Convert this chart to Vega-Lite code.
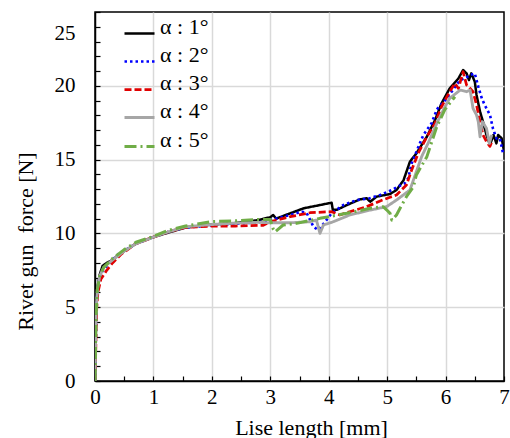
{
  "$schema": "https://vega.github.io/schema/vega-lite/v6.json",
  "width": 409,
  "height": 369,
  "autosize": "none",
  "padding": {"left": 95, "top": 12, "right": 6, "bottom": 57},
  "config": {
    "view": {"stroke": "#000000", "strokeWidth": 1.5},
    "font": "Liberation Serif"
  },
  "data": {"values": [
    {"s":"1","x":0,"y":0},{"s":"1","x":0.01,"y":3},{"s":"1","x":0.02,"y":5},{"s":"1","x":0.04,"y":6.3},{"s":"1","x":0.08,"y":7.2},{"s":"1","x":0.13,"y":7.8},{"s":"1","x":0.2,"y":8.0},{"s":"1","x":0.3,"y":8.2},{"s":"1","x":0.4,"y":8.55},{"s":"1","x":0.7,"y":9.3},{"s":"1","x":1.0,"y":9.75},{"s":"1","x":1.25,"y":10.05},{"s":"1","x":1.55,"y":10.4},{"s":"1","x":2.0,"y":10.6},{"s":"1","x":2.4,"y":10.7},{"s":"1","x":2.8,"y":10.9},{"s":"1","x":3.0,"y":11.1},{"s":"1","x":3.05,"y":11.25},{"s":"1","x":3.1,"y":11.0},{"s":"1","x":3.34,"y":11.36},{"s":"1","x":3.57,"y":11.7},{"s":"1","x":3.85,"y":11.92},{"s":"1","x":4.05,"y":12.08},{"s":"1","x":4.07,"y":11.6},{"s":"1","x":4.14,"y":11.6},{"s":"1","x":4.31,"y":11.92},{"s":"1","x":4.53,"y":12.3},{"s":"1","x":4.65,"y":12.38},{"s":"1","x":4.71,"y":12.15},{"s":"1","x":4.82,"y":12.49},{"s":"1","x":5.05,"y":12.67},{"s":"1","x":5.16,"y":12.94},{"s":"1","x":5.28,"y":13.6},{"s":"1","x":5.39,"y":14.86},{"s":"1","x":5.5,"y":15.42},{"s":"1","x":5.68,"y":16.55},{"s":"1","x":5.82,"y":17.68},{"s":"1","x":5.93,"y":18.8},{"s":"1","x":6.07,"y":19.82},{"s":"1","x":6.22,"y":20.5},{"s":"1","x":6.3,"y":21.07},{"s":"1","x":6.36,"y":20.84},{"s":"1","x":6.4,"y":20.39},{"s":"1","x":6.44,"y":20.84},{"s":"1","x":6.5,"y":20.28},{"s":"1","x":6.53,"y":19.38},{"s":"1","x":6.59,"y":18.25},{"s":"1","x":6.64,"y":17.57},{"s":"1","x":6.7,"y":16.67},{"s":"1","x":6.76,"y":16.0},{"s":"1","x":6.82,"y":16.67},{"s":"1","x":6.87,"y":16.1},{"s":"1","x":6.9,"y":16.67},{"s":"1","x":6.96,"y":16.44},{"s":"1","x":7.0,"y":15.6},
    {"s":"2","x":0,"y":0},{"s":"2","x":0.01,"y":2},{"s":"2","x":0.02,"y":4.2},{"s":"2","x":0.03,"y":5.6},{"s":"2","x":0.05,"y":6.5},{"s":"2","x":0.1,"y":7.3},{"s":"2","x":0.2,"y":7.8},{"s":"2","x":0.4,"y":8.6},{"s":"2","x":0.7,"y":9.3},{"s":"2","x":1.0,"y":9.75},{"s":"2","x":1.25,"y":10.1},{"s":"2","x":1.55,"y":10.4},{"s":"2","x":2.0,"y":10.55},{"s":"2","x":2.4,"y":10.65},{"s":"2","x":2.8,"y":10.75},{"s":"2","x":3.0,"y":10.9},{"s":"2","x":3.22,"y":11.13},{"s":"2","x":3.4,"y":11.31},{"s":"2","x":3.54,"y":11.47},{"s":"2","x":3.62,"y":11.4},{"s":"2","x":3.74,"y":10.45},{"s":"2","x":3.82,"y":10.23},{"s":"2","x":3.94,"y":10.79},{"s":"2","x":4.05,"y":11.36},{"s":"2","x":4.25,"y":11.92},{"s":"2","x":4.48,"y":12.26},{"s":"2","x":4.7,"y":12.38},{"s":"2","x":4.88,"y":12.6},{"s":"2","x":5.08,"y":12.94},{"s":"2","x":5.16,"y":13.12},{"s":"2","x":5.3,"y":13.39},{"s":"2","x":5.36,"y":13.73},{"s":"2","x":5.42,"y":14.75},{"s":"2","x":5.56,"y":16.1},{"s":"2","x":5.62,"y":16.67},{"s":"2","x":5.76,"y":17.46},{"s":"2","x":5.85,"y":18.4},{"s":"2","x":6.02,"y":19.15},{"s":"2","x":6.25,"y":20.39},{"s":"2","x":6.33,"y":20.5},{"s":"2","x":6.42,"y":20.73},{"s":"2","x":6.5,"y":20.84},{"s":"2","x":6.56,"y":19.94},{"s":"2","x":6.62,"y":19.15},{"s":"2","x":6.67,"y":18.7},{"s":"2","x":6.76,"y":18.02},{"s":"2","x":6.81,"y":17.12},{"s":"2","x":6.87,"y":16.44},{"s":"2","x":6.93,"y":16.44},{"s":"2","x":6.99,"y":15.3},
    {"s":"3","x":0,"y":0},{"s":"3","x":0.01,"y":1.5},{"s":"3","x":0.02,"y":3.5},{"s":"3","x":0.03,"y":5.0},{"s":"3","x":0.05,"y":6.0},{"s":"3","x":0.1,"y":6.9},{"s":"3","x":0.2,"y":7.5},{"s":"3","x":0.3,"y":8.0},{"s":"3","x":0.45,"y":8.6},{"s":"3","x":0.7,"y":9.3},{"s":"3","x":1.0,"y":9.75},{"s":"3","x":1.25,"y":10.1},{"s":"3","x":1.55,"y":10.4},{"s":"3","x":2.0,"y":10.5},{"s":"3","x":2.4,"y":10.5},{"s":"3","x":2.88,"y":10.55},{"s":"3","x":3.0,"y":10.79},{"s":"3","x":3.34,"y":11.13},{"s":"3","x":3.68,"y":11.4},{"s":"3","x":4.05,"y":11.47},{"s":"3","x":4.19,"y":11.25},{"s":"3","x":4.36,"y":11.47},{"s":"3","x":4.65,"y":11.81},{"s":"3","x":4.88,"y":12.2},{"s":"3","x":5.05,"y":12.45},{"s":"3","x":5.16,"y":12.6},{"s":"3","x":5.33,"y":13.28},{"s":"3","x":5.42,"y":14.3},{"s":"3","x":5.53,"y":15.42},{"s":"3","x":5.68,"y":16.55},{"s":"3","x":5.82,"y":17.46},{"s":"3","x":5.93,"y":18.58},{"s":"3","x":6.07,"y":19.6},{"s":"3","x":6.16,"y":20.16},{"s":"3","x":6.22,"y":19.82},{"s":"3","x":6.3,"y":20.95},{"s":"3","x":6.36,"y":20.05},{"s":"3","x":6.42,"y":19.82},{"s":"3","x":6.47,"y":19.6},{"s":"3","x":6.53,"y":18.7},{"s":"3","x":6.59,"y":17.57},{"s":"3","x":6.64,"y":16.67},{"s":"3","x":6.7,"y":16.22},{"s":"3","x":6.76,"y":15.9},{"s":"3","x":6.8,"y":16.3},
    {"s":"4","x":0,"y":0},{"s":"4","x":0.01,"y":2.8},{"s":"4","x":0.02,"y":4.8},{"s":"4","x":0.04,"y":6.2},{"s":"4","x":0.08,"y":7.1},{"s":"4","x":0.15,"y":7.7},{"s":"4","x":0.3,"y":8.2},{"s":"4","x":0.5,"y":8.8},{"s":"4","x":0.7,"y":9.3},{"s":"4","x":1.0,"y":9.75},{"s":"4","x":1.25,"y":10.1},{"s":"4","x":1.55,"y":10.45},{"s":"4","x":2.0,"y":10.6},{"s":"4","x":2.4,"y":10.7},{"s":"4","x":2.8,"y":10.75},{"s":"4","x":3.0,"y":10.72},{"s":"4","x":3.34,"y":10.72},{"s":"4","x":3.68,"y":10.79},{"s":"4","x":3.79,"y":10.9},{"s":"4","x":3.85,"y":10.0},{"s":"4","x":3.91,"y":10.57},{"s":"4","x":4.08,"y":10.79},{"s":"4","x":4.36,"y":11.25},{"s":"4","x":4.71,"y":11.58},{"s":"4","x":4.99,"y":11.81},{"s":"4","x":5.16,"y":12.26},{"s":"4","x":5.39,"y":12.94},{"s":"4","x":5.5,"y":14.18},{"s":"4","x":5.59,"y":15.2},{"s":"4","x":5.7,"y":16.1},{"s":"4","x":5.85,"y":17.46},{"s":"4","x":5.99,"y":18.58},{"s":"4","x":6.07,"y":19.15},{"s":"4","x":6.25,"y":19.71},{"s":"4","x":6.36,"y":19.6},{"s":"4","x":6.42,"y":19.71},{"s":"4","x":6.47,"y":18.47},{"s":"4","x":6.53,"y":18.02},{"s":"4","x":6.56,"y":17.57},{"s":"4","x":6.59,"y":16.55},{"s":"4","x":6.63,"y":17.57},{"s":"4","x":6.7,"y":17.12},{"s":"4","x":6.75,"y":16.1},{"s":"4","x":6.79,"y":16.67},
    {"s":"5","x":0,"y":0},{"s":"5","x":0.01,"y":2.5},{"s":"5","x":0.02,"y":4.5},{"s":"5","x":0.04,"y":6.2},{"s":"5","x":0.08,"y":7.1},{"s":"5","x":0.15,"y":7.7},{"s":"5","x":0.3,"y":8.3},{"s":"5","x":0.5,"y":8.9},{"s":"5","x":0.7,"y":9.4},{"s":"5","x":1.0,"y":9.8},{"s":"5","x":1.25,"y":10.2},{"s":"5","x":1.55,"y":10.5},{"s":"5","x":2.0,"y":10.8},{"s":"5","x":2.4,"y":10.85},{"s":"5","x":2.8,"y":10.95},{"s":"5","x":3.0,"y":10.95},{"s":"5","x":3.05,"y":10.3},{"s":"5","x":3.08,"y":10.1},{"s":"5","x":3.22,"y":10.57},{"s":"5","x":3.45,"y":10.68},{"s":"5","x":3.85,"y":11.02},{"s":"5","x":4.31,"y":11.36},{"s":"5","x":4.71,"y":11.7},{"s":"5","x":4.93,"y":11.81},{"s":"5","x":4.99,"y":11.6},{"s":"5","x":5.05,"y":11.36},{"s":"5","x":5.08,"y":10.9},{"s":"5","x":5.16,"y":11.25},{"s":"5","x":5.25,"y":11.92},{"s":"5","x":5.33,"y":12.49},{"s":"5","x":5.45,"y":13.16},{"s":"5","x":5.5,"y":13.96},{"s":"5","x":5.68,"y":15.2},{"s":"5","x":5.85,"y":17.23},{"s":"5","x":5.99,"y":18.4},{"s":"5","x":6.16,"y":19.26}
  ]},
  "mark": {"type": "line", "strokeCap": "butt", "strokeJoin": "round", "clip": true},
  "encoding": {
    "x": {
      "field": "x", "type": "quantitative",
      "scale": {"domain": [0, 7], "nice": false},
      "axis": {
        "values": [0,0.5,1,1.5,2,2.5,3,3.5,4,4.5,5,5.5,6,6.5,7],
        "labelExpr": "datum.value % 1 === 0 ? format(datum.value, 'd') : ''",
        "title": "Lise length [mm]",
        "titleFont": "Liberation Serif", "titleFontSize": 22, "titleFontWeight": "normal", "titleColor": "#000000",
        "titleX": 216, "titleY": 46, "titleBaseline": "middle", "titleAlign": "center",
        "labelFont": "Liberation Serif", "labelFontSize": 21, "labelColor": "#000000",
        "labelPadding": 10, "labelFlush": false,
        "tickSize": -5, "tickColor": "#000000", "tickWidth": 1.2,
        "domainColor": "#000000", "domainWidth": 1.5,
        "grid": true, "gridColor": "#d9d9d9", "gridWidth": 1.5,
        "gridOpacity": {"condition": {"test": "datum.value % 1 !== 0 || datum.value === 0 || datum.value === 7", "value": 0}, "value": 1}
      }
    },
    "y": {
      "field": "y", "type": "quantitative",
      "scale": {"domain": [0, 25], "nice": false},
      "axis": {
        "values": [0,1,2,3,4,5,6,7,8,9,10,11,12,13,14,15,16,17,18,19,20,21,22,23,24,25],
        "labelExpr": "datum.value % 5 === 0 ? datum.label : ''",
        "labelOffset": {"condition": {"test": "datum.value === 25", "value": 21}, "value": 0},
        "title": "Rivet gun\u00a0 force [N]",
        "titleFont": "Liberation Serif", "titleFontSize": 22, "titleFontWeight": "normal", "titleColor": "#000000",
        "titleX": -70, "titleY": 229, "titleBaseline": "middle", "titleAlign": "center", "titleAngle": 270,
        "labelFont": "Liberation Serif", "labelFontSize": 21, "labelColor": "#000000",
        "labelPadding": 25, "labelFlush": false,
        "tickSize": -5, "tickColor": "#000000", "tickWidth": 1.2,
        "domainColor": "#000000", "domainWidth": 1.5,
        "grid": true, "gridColor": "#d9d9d9", "gridWidth": 1.5,
        "gridOpacity": {"condition": {"test": "datum.value % 5 !== 0 || datum.value === 0 || datum.value === 25", "value": 0}, "value": 1}
      }
    },
    "color": {
      "field": "s", "type": "nominal",
      "scale": {"domain": ["1","2","3","4","5"], "range": ["#000000","#0000ff","#e00000","#a6a6a6","#70ad47"]},
      "legend": {
        "orient": "none", "legendX": 28, "legendY": 5, "title": null,
        "symbolType": "stroke", "symbolSize": 900, "symbolStrokeWidth": 2.5,
        "labelExpr": "'α : ' + datum.label + '°'",
        "labelFont": "Liberation Serif", "labelFontSize": 22, "labelColor": "#000000",
        "labelBaseline": "alphabetic", "labelOffset": 4, "rowPadding": 4, "padding": 0,
        "labelLimit": 200
      }
    },
    "strokeDash": {
      "field": "s", "type": "nominal",
      "scale": {"domain": ["1","2","3","4","5"], "range": [[1,0],[2.5,3],[7,3],[1,0],[12,4,2,4]]},
      "legend": {
        "orient": "none", "legendX": 28, "legendY": 5, "title": null,
        "symbolType": "stroke", "symbolSize": 900, "symbolStrokeWidth": 2.5,
        "labelExpr": "'α : ' + datum.label + '°'",
        "labelFont": "Liberation Serif", "labelFontSize": 22, "labelColor": "#000000",
        "labelBaseline": "alphabetic", "labelOffset": 4, "rowPadding": 4, "padding": 0,
        "labelLimit": 200
      }
    },
    "strokeWidth": {
      "field": "s", "type": "nominal",
      "scale": {"domain": ["1","2","3","4","5"], "range": [2.5, 3, 2.5, 2.5, 1.6]},
      "legend": null
    }
  }
}
